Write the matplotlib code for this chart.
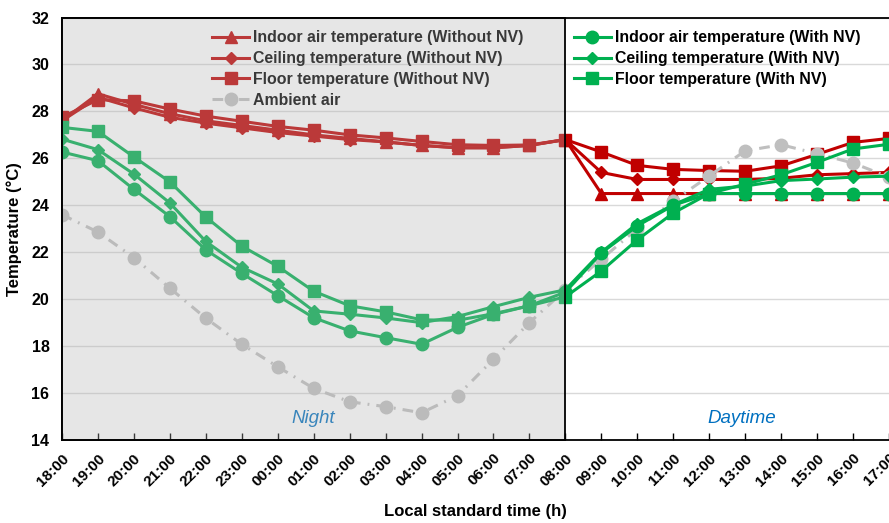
import numpy as np
import matplotlib
matplotlib.use('Agg')
import matplotlib.pyplot as plt
from matplotlib.patches import Rectangle

plt.rcParams['font.family'] = ['Liberation Sans', 'DejaVu Sans']
plt.rcParams['font.weight'] = 'bold'
plt.rcParams['axes.labelweight'] = 'bold'

hours = ['18:00', '19:00', '20:00', '21:00', '22:00', '23:00', '00:00', '01:00',
         '02:00', '03:00', '04:00', '05:00', '06:00', '07:00', '08:00', '09:00',
         '10:00', '11:00', '12:00', '13:00', '14:00', '15:00', '16:00', '17:00']

air_no_nv = [27.6, 28.75, 28.3, 27.9, 27.6, 27.4, 27.2, 27.0, 26.85, 26.7, 26.55, 26.45,
             26.45, 26.55, 26.8, 24.5, 24.5, 24.5, 24.5, 24.5, 24.5, 24.5, 24.5, 24.5]
ceil_no_nv = [27.6, 28.6, 28.15, 27.75, 27.5, 27.3, 27.1, 26.95, 26.8, 26.7, 26.55, 26.45,
              26.45, 26.55, 26.8, 25.4, 25.1, 25.1, 25.1, 25.1, 25.15, 25.3, 25.35, 25.4]
floor_no_nv = [27.75, 28.5, 28.45, 28.1, 27.8, 27.58, 27.36, 27.2, 27.0, 26.87, 26.72, 26.58,
               26.55, 26.57, 26.8, 26.27, 25.7, 25.53, 25.48, 25.45, 25.68, 26.17, 26.68, 26.85]
ambient = [23.6, 22.86, 21.77, 20.47, 19.19, 18.08, 17.12, 16.2, 15.63, 15.42, 15.16, 15.89,
           17.44, 19.0, 20.4, 21.7, 23.0, 24.18, 25.25, 26.32, 26.58, 26.2, 25.8, 25.2]

air_nv = [26.27, 25.9, 24.68, 23.52, 22.1, 21.1, 20.15, 19.21, 18.65, 18.36, 18.08, 18.8,
          19.35, 19.72, 20.3, 21.97, 23.12, 24.0, 24.5, 24.5, 24.5, 24.5, 24.5, 24.5]
ceil_nv = [26.82, 26.37, 25.33, 24.1, 22.46, 21.36, 20.65, 19.5, 19.36, 19.2, 19.0, 19.26,
           19.68, 20.08, 20.4, 22.0, 23.22, 24.02, 24.68, 24.82, 25.05, 25.12, 25.2, 25.24]
floor_nv = [27.32, 27.15, 26.06, 25.0, 23.5, 22.26, 21.4, 20.34, 19.72, 19.46, 19.12, 19.1,
            19.38, 19.72, 20.1, 21.2, 22.53, 23.67, 24.5, 24.9, 25.3, 25.83, 26.4, 26.6]

red = '#c00000'
green = '#00b050'
grey = '#bfbfbf'

fig = plt.figure(figsize=(8.89, 5.23), dpi=100)
ax = fig.add_axes([0.0697, 0.1587, 0.9303, 0.8078])
x = np.arange(len(hours))

lw = 2.2
r1, = ax.plot(x, air_no_nv, color=red, lw=lw, marker='^', ms=9, label='Indoor air temperature (Without NV)')
r2, = ax.plot(x, ceil_no_nv, color=red, lw=lw, marker='D', ms=6.5, label='Ceiling temperature (Without NV)')
r3, = ax.plot(x, floor_no_nv, color=red, lw=lw, marker='s', ms=8.5, label='Floor temperature (Without NV)')
a1, = ax.plot(x, ambient, color=grey, lw=lw, marker='o', ms=9, dashes=[3.5, 2.3, 0.6, 2.3], label='Ambient air')
g1, = ax.plot(x, air_nv, color=green, lw=lw, marker='o', ms=9, label='Indoor air temperature (With NV)')
g2, = ax.plot(x, ceil_nv, color=green, lw=lw, marker='D', ms=6.5, label='Ceiling temperature (With NV)')
g3, = ax.plot(x, floor_nv, color=green, lw=lw, marker='s', ms=8.5, label='Floor temperature (With NV)')

ax.set_xlim(0, 23)
ax.set_ylim(14, 32)
ax.set_yticks(np.arange(14, 33, 2))
ax.set_xticks(x)
ax.set_xticklabels(hours, rotation=45, ha='right', va='top', rotation_mode='anchor', fontsize=11)
ax.tick_params(axis='x', direction='in', length=5, width=1, pad=8)
ax.tick_params(axis='y', length=0, labelsize=11.5, pad=9)
ax.grid(axis='y', color='#d9d9d9', lw=1)
ax.set_axisbelow(True)
for s in ['left', 'bottom', 'top']:
    ax.spines[s].set_color('black')
    ax.spines[s].set_linewidth(1.3)
ax.spines['right'].set_visible(False)

ax.set_xlabel('Local standard time (h)', fontsize=12, labelpad=11)
ax.set_ylabel('Temperature (°C)', fontsize=12, labelpad=7)

leg1 = ax.legend(handles=[r1, r2, r3, a1], loc='upper left', bbox_to_anchor=(0.174, 0.985),
                 frameon=False, fontsize=11.4, handlelength=2.35, handletextpad=0.25,
                 labelspacing=0.37, borderaxespad=0)
ax.add_artist(leg1)
ax.legend(handles=[g1, g2, g3], loc='upper left', bbox_to_anchor=(0.611, 0.985),
          frameon=False, fontsize=11.4, handlelength=2.35, handletextpad=0.25,
          labelspacing=0.37, borderaxespad=0)

ax.text(7, 14.93, 'Night', color='#0070c0', style='italic', fontweight='normal',
        fontsize=13.5, ha='center', va='center')
ax.text(18.9, 14.93, 'Daytime', color='#0070c0', style='italic', fontweight='normal',
        fontsize=13.5, ha='center', va='center')

ax.add_patch(Rectangle((0, 14), 14, 18, facecolor=(0.7, 0.7, 0.7, 0.32),
                       edgecolor='black', lw=1.3, zorder=10, clip_on=False))

fig.savefig('out.png', dpi=100)
